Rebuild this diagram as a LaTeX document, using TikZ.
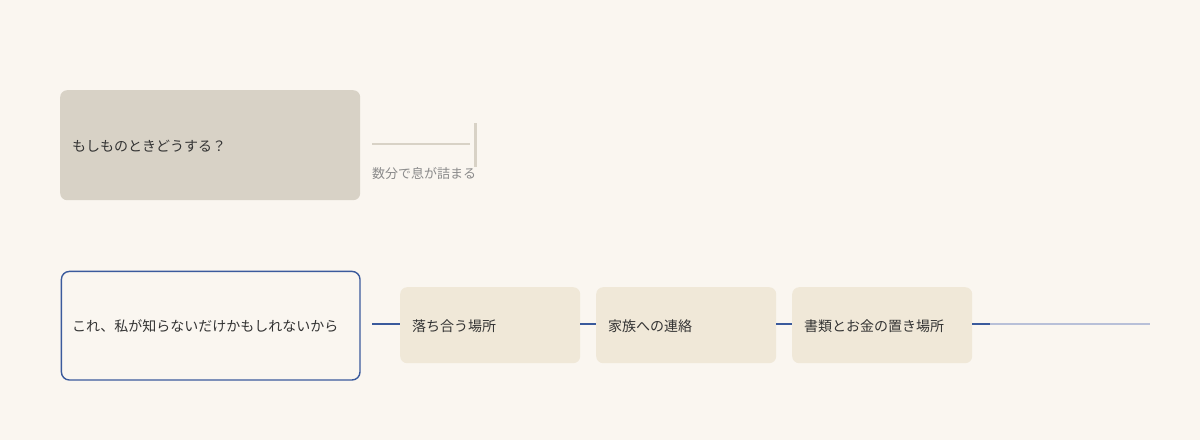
\documentclass[tikz,border=0pt]{standalone}
\usepackage{fontspec}
\newfontfamily\jp{Noto Sans CJK JP}
\definecolor{bg}{HTML}{FAF6F0}
\definecolor{greybox}{HTML}{D8D2C6}
\definecolor{creambox}{HTML}{F0E8D8}
\definecolor{navy}{HTML}{3A5A9C}
\definecolor{paleblue}{HTML}{B8C0D8}
\definecolor{ink}{HTML}{333333}
\definecolor{muted}{HTML}{8A8A8A}
\tikzset{
  qbox/.style={rectangle, rounded corners=7pt, fill=greybox, minimum width=300pt, minimum height=110pt, anchor=north west, inner sep=0pt},
  rbox/.style={rectangle, rounded corners=8pt, draw=navy, line width=1.4pt, fill=bg, minimum width=298.6pt, minimum height=108.6pt, anchor=north west, inner sep=0pt},
  cbox/.style={rectangle, rounded corners=7pt, fill=creambox, minimum width=180pt, minimum height=76pt, anchor=north west, inner sep=0pt},
  lbl/.style={anchor=west, inner sep=0pt, font=\jp\fontsize{14pt}{16pt}\selectfont, text=ink},
  conn/.style={draw=navy, line width=1.4pt},
}
\begin{document}
\begin{tikzpicture}[x=1pt,y=-1pt]
\fill[bg] (0,0) rectangle (1200,440);
\useasboundingbox (0,0) rectangle (1200,440);
% top question box
\node[qbox] (q) at (60,90) {};
\node[lbl] (qt) at (72,146) {もしものときどうする？};
\coordinate (qs) at (372,144);
\coordinate (qe) at (470,144);
\draw[greybox, line width=1.4pt] (qs) -- (qe);
\coordinate (bt) at (475.5,123);
\coordinate (bb) at (475.5,167);
\draw[greybox, line width=3pt] (bt) -- (bb);
\node[anchor=west, inner sep=0pt, font=\jp\fontsize{13pt}{15pt}\selectfont, text=muted] (ql) at (372,174) {数分で息が詰まる};
% bottom reason box
\node[rbox] (r) at (60.7,270.7) {};
\node[lbl] (rt) at (72,326) {これ、私が知らないだけかもしれないから};
\node[cbox] (c1) at (400,287) {};
\node[lbl] (c1t) at (412,326) {落ち合う場所};
\node[cbox] (c2) at (596,287) {};
\node[lbl] (c2t) at (608,326) {家族への連絡};
\node[cbox] (c3) at (792,287) {};
\node[lbl] (c3t) at (804,326) {書類とお金の置き場所};
\coordinate (rs) at (372,324);
\coordinate (tail) at (990,324);
\coordinate (tailend) at (1150,324);
\draw[conn] (rs) -- (c1.west |- rs);
\draw[conn] (c1.east |- rs) -- (c2.west |- rs);
\draw[conn] (c2.east |- rs) -- (c3.west |- rs);
\draw[paleblue, line width=1.4pt] (tail) -- (tailend);
\draw[conn] (c3.east |- rs) -- (tail);
\end{tikzpicture}
\end{document}
